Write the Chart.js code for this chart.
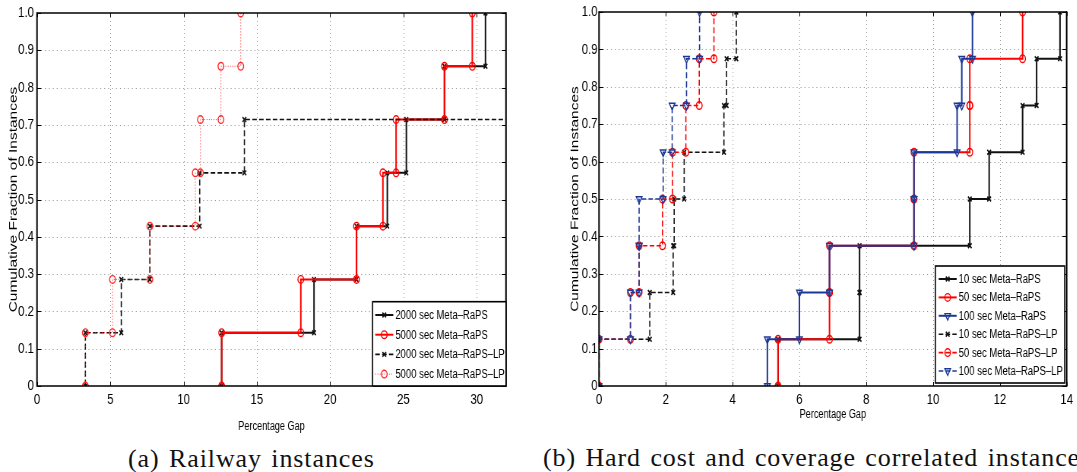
<!DOCTYPE html>
<html>
<head>
<meta charset="utf-8">
<script src="https://cdn.jsdelivr.net/npm/chart.js@4.4.1/dist/chart.umd.min.js"></script>
<style>
body { margin: 0; background: #fff; width: 1077px; height: 472px; overflow: hidden; position: relative; }
.fig { position: absolute; top: 0; transform-origin: 0 0; transform: scaleX(0.76); }
.cap { position: absolute; font-family: "Liberation Serif", "DejaVu Serif", serif; font-size: 26px; line-height: 26px; letter-spacing: 0.9px; word-spacing: 2px; white-space: nowrap; color: #111; }
</style>
</head>
<body>
<canvas id="railway" class="fig" style="left:0px" width="711" height="440"></canvas>
<canvas id="hardcost" class="fig" style="left:560px" width="680" height="440"></canvas>
<div class="cap" style="left:128px;top:446px">(a) Railway instances</div>
<div class="cap" style="left:543px;top:445px">(b) Hard cost and coverage correlated instances</div>
<script>
// ================= DATA =================
// sorted percentage gaps of the instances, drawn as cumulative step curves
const railLabels = ["2000 sec Meta–RaPS", "5000 sec Meta–RaPS", "2000 sec Meta–RaPS–LP", "5000 sec Meta–RaPS–LP"];
const rail2000 = [12.6, 18.9, 21.8, 23.9, 25.2, 27.8, 30.6];
const rail5000 = [12.6, 18.0, 21.8, 23.6, 24.5, 27.8, 29.7];
const rail2000LP = [3.3, 5.75, 7.7, 11.1, 14.15, 36, 40];   // last two lie past the axis
const rail5000LP = [3.3, 5.15, 7.7, 10.8, 11.15, 12.55, 13.9];

const hardLabels = ["10 sec Meta–RaPS", "50 sec Meta–RaPS", "100 sec Meta–RaPS",
                    "10 sec Meta–RaPS–LP", "50 sec Meta–RaPS–LP", "100 sec Meta–RaPS–LP"];
const hard10 = [5.36, 7.8, 7.8, 11.1, 11.68, 12.68, 13.1, 13.8];
const hard50 = [5.36, 6.9, 6.9, 9.43, 9.43, 11.1, 11.1, 12.68];
const hard100 = [5.04, 6.0, 6.9, 9.43, 9.43, 10.72, 10.86, 11.18];
const hard10LP = [0, 1.52, 2.22, 2.25, 2.55, 3.74, 3.82, 4.11];
const hard50LP = [0, 0.94, 1.2, 1.9, 2.2, 2.6, 3.0, 3.44];
const hard100LP = [0, 0.94, 1.2, 1.2, 1.92, 2.19, 2.62, 3.01];

const SX = 0.76;  // figure is squeezed horizontally
const BLACK = "#111111", RED = "#ff0000", BLUE = "#1c3897", GRID = "#9a9a9a";
const FONT = "'Liberation Sans', Arial, sans-serif";

// ================= HELPERS =================
function steps(gaps) {
    const n = gaps.length, pts = [];
    gaps.forEach((g, i) => pts.push({x: g, y: i / n}, {x: g, y: (i + 1) / n}));
    return pts;
}

function series(label, gaps, i, o) {
    return {
        label, data: steps(gaps), order: -i,
        showLine: true, fill: false,
        borderColor: o.color, borderWidth: o.width, borderDash: o.dash || [],
        pointStyle: o.marker, pointRadius: o.radius, pointRotation: o.rot || 0,
        pointBorderColor: o.color, pointBackgroundColor: "rgba(0,0,0,0)",
        pointBorderWidth: o.pw || 1.4, pointHoverRadius: o.radius
    };
}

function drawMarker(ctx, style, x, y, r, rot) {
    ctx.beginPath();
    if (style === "circle") {
        ctx.arc(x, y, r, 0, Math.PI * 2);
    } else if (style === "crossRot") {
        const d = r * Math.SQRT1_2;
        ctx.moveTo(x - d, y - d); ctx.lineTo(x + d, y + d);
        ctx.moveTo(x - d, y + d); ctx.lineTo(x + d, y - d);
    } else if (style === "triangle") {
        let a = (rot || 0) * Math.PI / 180;
        ctx.moveTo(x + Math.sin(a) * r, y - Math.cos(a) * r);
        for (let k = 0; k < 2; k++) {
            a += 2 * Math.PI / 3;
            ctx.lineTo(x + Math.sin(a) * r, y - Math.cos(a) * r);
        }
        ctx.closePath();
    }
    ctx.stroke();
}

function line(ctx, x1, y1, x2, y2) {
    ctx.beginPath(); ctx.moveTo(x1, y1); ctx.lineTo(x2, y2); ctx.stroke();
}

// ================= FRAME / GRID / LEGEND =================
const framePlugin = {
    id: "frame",
    beforeDatasetsDraw(chart) {
        const {ctx, chartArea: a, scales: {x, y}} = chart;
        ctx.save();
        ctx.strokeStyle = GRID; ctx.lineWidth = 1;
        ctx.setLineDash([1, 3]);
        x.ticks.forEach(t => {
            const px = Math.round(x.getPixelForValue(t.value)) + 0.5;
            if (px > a.left + 2 && px < a.right - 2) line(ctx, px, a.top, px, a.bottom);
        });
        ctx.setLineDash([1.3, 3.9]);
        y.ticks.forEach(t => {
            const py = Math.round(y.getPixelForValue(t.value)) + 0.5;
            if (py > a.top + 2 && py < a.bottom - 2) line(ctx, a.left, py, a.right, py);
        });
        ctx.restore();
    },
    afterDatasetsDraw(chart, args, opts) {
        const {ctx, chartArea: a, scales: {x, y}} = chart;
        ctx.save();
        ctx.strokeStyle = "#000"; ctx.setLineDash([]);
        // inward tick marks on all four sides
        ctx.lineWidth = 1;
        x.ticks.forEach(t => {
            const px = Math.round(x.getPixelForValue(t.value)) + 0.5;
            line(ctx, px, a.bottom, px, a.bottom - 4);
            line(ctx, px, a.top, px, a.top + 4);
        });
        y.ticks.forEach(t => {
            const py = Math.round(y.getPixelForValue(t.value)) + 0.5;
            line(ctx, a.left, py, a.left + 5.5, py);
            line(ctx, a.right, py, a.right - 5.5, py);
        });
        ctx.lineWidth = 1.6;
        ctx.beginPath();
        ctx.moveTo(a.left, a.top); ctx.lineTo(a.right, a.top);
        ctx.moveTo(a.left, a.bottom); ctx.lineTo(a.right, a.bottom);
        ctx.stroke();
        ctx.lineWidth = 2;
        ctx.beginPath();
        ctx.moveTo(a.left, a.top - 0.8); ctx.lineTo(a.left, a.bottom + 0.8);
        ctx.moveTo(a.right, a.top - 0.8); ctx.lineTo(a.right, a.bottom + 0.8);
        ctx.stroke();

        // legend box
        const L = opts.legend;
        const bx = a.right - L.dx - L.w, by = a.bottom - L.dy - L.h;
        ctx.fillStyle = "#fff";
        ctx.fillRect(bx, by, L.w, L.h);
        ctx.lineWidth = 1.6;
        ctx.strokeRect(bx, by, L.w, L.h);
        ctx.font = L.size + "px " + FONT;
        ctx.textBaseline = "middle";
        ctx.fillStyle = "#000";
        chart.data.datasets.forEach((d, i) => {
            const ly = by + L.first + i * L.gap;
            ctx.strokeStyle = d.borderColor;
            ctx.lineWidth = d.borderWidth;
            ctx.setLineDash(d.borderDash);
            line(ctx, bx + L.from, ly, bx + L.to, ly);
            ctx.setLineDash([]);
            ctx.lineWidth = d.pointBorderWidth;
            drawMarker(ctx, d.pointStyle, bx + (L.from + L.to) / 2, ly, d.pointRadius, d.pointRotation);
            ctx.fillText(d.label, bx + L.text, ly + 0.5);
        });
        ctx.restore();
    }
};

// ================= CHART =================
function makeChart(id, datasets, xMax, xStep, geo) {
    const tickFont = {family: FONT, size: 15};
    return new Chart(document.getElementById(id), {
        type: "scatter",
        data: {datasets},
        options: {
            responsive: false,
            animation: false,
            events: [],
            layout: {padding: {top: 12, right: geo.padR, left: 0, bottom: geo.padB}},
            plugins: {
                legend: {display: false},
                tooltip: {enabled: false},
                frame: {legend: geo.legend}
            },
            scales: {
                x: {
                    type: "linear", min: 0, max: xMax,
                    grid: {display: false, drawTicks: false}, border: {display: false},
                    ticks: {stepSize: xStep, includeBounds: false, padding: 5, color: "#000", font: tickFont, maxRotation: 0, autoSkip: false},
                    title: {display: true, text: "Percentage Gap", color: "#000", font: {family: FONT, size: 12}, padding: 0},
                    afterFit: s => { s.height = geo.xH; }
                },
                y: {
                    type: "linear", min: 0, max: 1,
                    grid: {display: false, drawTicks: false}, border: {display: false},
                    ticks: {stepSize: 0.1, padding: geo.yPad, color: "#000", font: tickFont},
                    title: {display: true, text: "Cumulative Fraction of Instances", color: "#000", font: {family: FONT, size: 15.5}, padding: {top: geo.yTitle, bottom: 0}},
                    afterFit: s => { s.width = geo.yW; }
                }
            }
        },
        plugins: [framePlugin]
    });
}

const railSets = [
    series(railLabels[0], rail2000, 0, {color: BLACK, width: 2, marker: "crossRot", radius: 3.4, pw: 1.6}),
    series(railLabels[1], rail5000, 1, {color: RED, width: 2, marker: "circle", radius: 3.8}),
    series(railLabels[2], rail2000LP, 2, {color: BLACK, width: 1.6, dash: [6, 3], marker: "crossRot", radius: 3.4, pw: 1.6}),
    series(railLabels[3], rail5000LP, 3, {color: "#ff2a2a", width: 1, dash: [1, 2], marker: "circle", radius: 3.8})
];

const hardSets = [
    series(hardLabels[0], hard10, 0, {color: BLACK, width: 2, marker: "crossRot", radius: 3.4, pw: 1.6}),
    series(hardLabels[1], hard50, 1, {color: RED, width: 2, marker: "circle", radius: 3.8}),
    series(hardLabels[2], hard100, 2, {color: BLUE, width: 2, marker: "triangle", radius: 4.4, rot: 180}),
    series(hardLabels[3], hard10LP, 3, {color: BLACK, width: 1.6, dash: [6, 3], marker: "crossRot", radius: 3.4, pw: 1.6}),
    series(hardLabels[4], hard50LP, 4, {color: RED, width: 1.6, dash: [6, 3], marker: "circle", radius: 3.8}),
    series(hardLabels[5], hard100LP, 5, {color: BLUE, width: 1.6, dash: [6, 3], marker: "triangle", radius: 4.4, rot: 180})
];

makeChart("railway", railSets, 32, 5, {
    yW: 37 / SX, padR: 711 - 506 / SX, xH: 48.2, padB: 5.8, yPad: 4, yTitle: 8,
    legend: {w: 133.4 / SX, h: 84.3, dx: 0, dy: 0, first: 13.3, gap: 19.7, from: 3.5, to: 27.2, text: 29.9, size: 12.5}
});

makeChart("hardcost", hardSets, 14, 2, {
    yW: 39 / SX, padR: 680 - 508 / SX, xH: 36.2, padB: 17.8, yPad: 2, yTitle: 10,
    legend: {w: 129.3 / SX, h: 117, dx: 2 / SX, dy: 3, first: 13, gap: 18.4, from: 4.4, to: 28, text: 30.7, size: 12.5}
});
</script>
</body>
</html>
